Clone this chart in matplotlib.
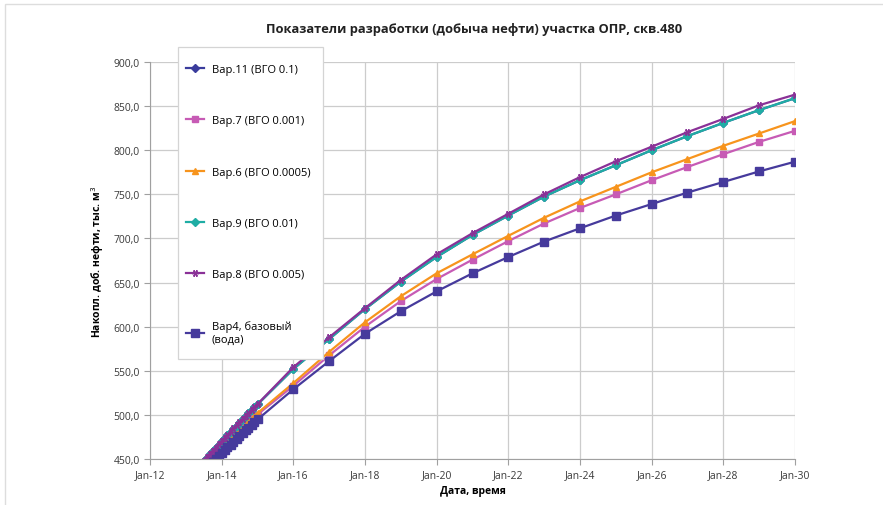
import matplotlib
matplotlib.use("Agg")
import matplotlib.pyplot as plt
import matplotlib.dates as mdates
from matplotlib.ticker import FuncFormatter, MultipleLocator
from matplotlib.patches import Rectangle
import pandas as pd

plt.rcParams['font.family'] = ['Open Sans', 'DejaVu Sans']

# dates: monthly from mid-2013 to Jan-2015, then yearly 2016..2030
dates = list(pd.date_range('2013-07-01', '2015-01-01', freq='MS')) + \
        list(pd.date_range('2016-01-01', '2030-01-01', freq='YS'))

# cumulative oil production, thousand m3
var11 = [447.7, 451.5, 455.2, 458.9, 462.6, 466.3, 469.9, 473.5, 477.1, 480.7,
         484.3, 487.8, 491.3, 494.8, 498.3, 501.7, 505.1, 508.5, 511.9,
         552, 586, 620, 651, 679, 704, 726, 747.5, 766, 783, 800, 816, 831, 845.5, 859]
var7 = [437.5, 441.1, 444.7, 448.3, 451.9, 455.5, 459.1, 462.6, 466.1, 469.6,
        473.1, 476.6, 480.0, 483.4, 486.8, 490.2, 493.6, 497.0, 500.4,
        533, 567.5, 600, 629, 654, 676, 697, 717, 734.5, 750, 766, 781, 795.5, 809.5, 822]
var6 = [439.0, 442.6, 446.2, 449.8, 453.4, 457.0, 460.6, 464.1, 467.6, 471.1,
        474.6, 478.1, 481.6, 485.0, 488.4, 491.8, 495.2, 498.6, 502.0,
        536, 571.5, 605, 634.5, 660.5, 682, 703, 723.5, 742, 758.5, 775, 790, 805, 819, 833]
var9 = [447.7, 451.5, 455.2, 458.9, 462.6, 466.3, 469.9, 473.5, 477.1, 480.7,
        484.3, 487.8, 491.3, 494.8, 498.3, 501.7, 505.1, 508.5, 511.9,
        552, 586, 620, 651, 679, 704, 726, 747.5, 766, 783, 800, 816, 831, 845.5, 859]
var8 = [448.0, 451.8, 455.5, 459.2, 462.9, 466.6, 470.2, 473.8, 477.4, 481.0,
        484.6, 488.1, 491.6, 495.1, 498.6, 502.0, 505.4, 508.8, 512.2,
        554, 588, 621, 653, 682, 706, 728, 750, 769.5, 787.5, 804, 820.5, 835.5, 851, 863]
var4 = [437.0, 440.3, 443.6, 446.9, 450.2, 453.5, 456.8, 460.0, 463.2, 466.4,
        469.6, 472.8, 476.0, 479.2, 482.4, 485.5, 488.6, 491.7, 494.8,
        529, 561, 592, 617.5, 640, 660.5, 679, 696.5, 711.5, 726, 739, 752, 764, 776, 787]

labels = ['Вар.11 (ВГО 0.1)', 'Вар.7 (ВГО 0.001)', 'Вар.6 (ВГО 0.0005)',
          'Вар.9 (ВГО 0.01)', 'Вар.8 (ВГО 0.005)', 'Вар4, базовый\n(вода)']

fig = plt.figure(figsize=(8.83, 5.06), dpi=100)
ax = fig.add_axes([150/883, 1-460/506, 645/883, 397/506])

# series styles
styles = [
    (var11, '#3a3c9c', 'D', 4.5),
    (var7, '#c75bb5', 's', 4),
    (var6, '#f7941d', '^', 5),
    (var9, '#1fada4', 'D', 4.5),
    (var8, '#8a3197', (6, 2, 90), 5),
    (var4, '#463a9c', 's', 6),
]
for (vals, col, mk, ms), lab in zip(styles, labels):
    ax.plot(dates, vals, color=col, marker=mk, markersize=ms, linewidth=1.6,
            markeredgecolor=col, markeredgewidth=1.0, label=lab)

ax.set_xlim(pd.Timestamp('2012-01-01'), pd.Timestamp('2030-01-01'))
ax.set_ylim(450, 900)
ax.xaxis.set_major_locator(mdates.YearLocator(2))
ax.xaxis.set_major_formatter(mdates.DateFormatter('%b-%y'))
ax.yaxis.set_major_locator(MultipleLocator(50))
ax.yaxis.set_major_formatter(FuncFormatter(lambda v, p: f"{v:.1f}".replace('.', ',')))

ax.grid(True, color='#cccccc', linewidth=0.9)
ax.set_axisbelow(True)
for s in ['top', 'right']:
    ax.spines[s].set_visible(False)
for s in ['left', 'bottom']:
    ax.spines[s].set_color('#a0a0a0')
ax.tick_params(axis='both', labelsize=7.5, colors='#a0a0a0', labelcolor='#3a3a3a',
               length=4, width=0.8)

ax.set_xlabel('Дата, время', fontsize=7.5, fontweight='bold', labelpad=3)
ax.set_ylabel('Накопл. доб. нефти, тыс. м$^3$', fontsize=7.5, fontweight='bold', labelpad=5)
fig.text(474/883, 1-30/506, 'Показатели разработки (добыча нефти) участка ОПР, скв.480',
         ha='center', va='center', fontsize=9.3, fontweight='bold', color='#222222')

# legend box drawn separately so its size matches the original
box = Rectangle((178/883, 1-360/506), 145/883, 312/506, transform=fig.transFigure,
                facecolor='white', edgecolor='#d4d4d4', linewidth=0.9, zorder=4)
fig.patches.append(box)
leg = fig.legend(loc='upper left', bbox_to_anchor=(186/883, 1-65/506), fontsize=8,
                 frameon=False, labelspacing=3.63, handlelength=1.6, handletextpad=0.7,
                 borderpad=0, borderaxespad=0)
leg.set_zorder(5)

# light frame around the picture
fig.patches.append(Rectangle((5/883, -0.02), 1.0, 1-5/506+0.02, transform=fig.transFigure,
                             fill=False, edgecolor='#dddddd', linewidth=1.0))

fig.savefig('out.png', dpi=100)
